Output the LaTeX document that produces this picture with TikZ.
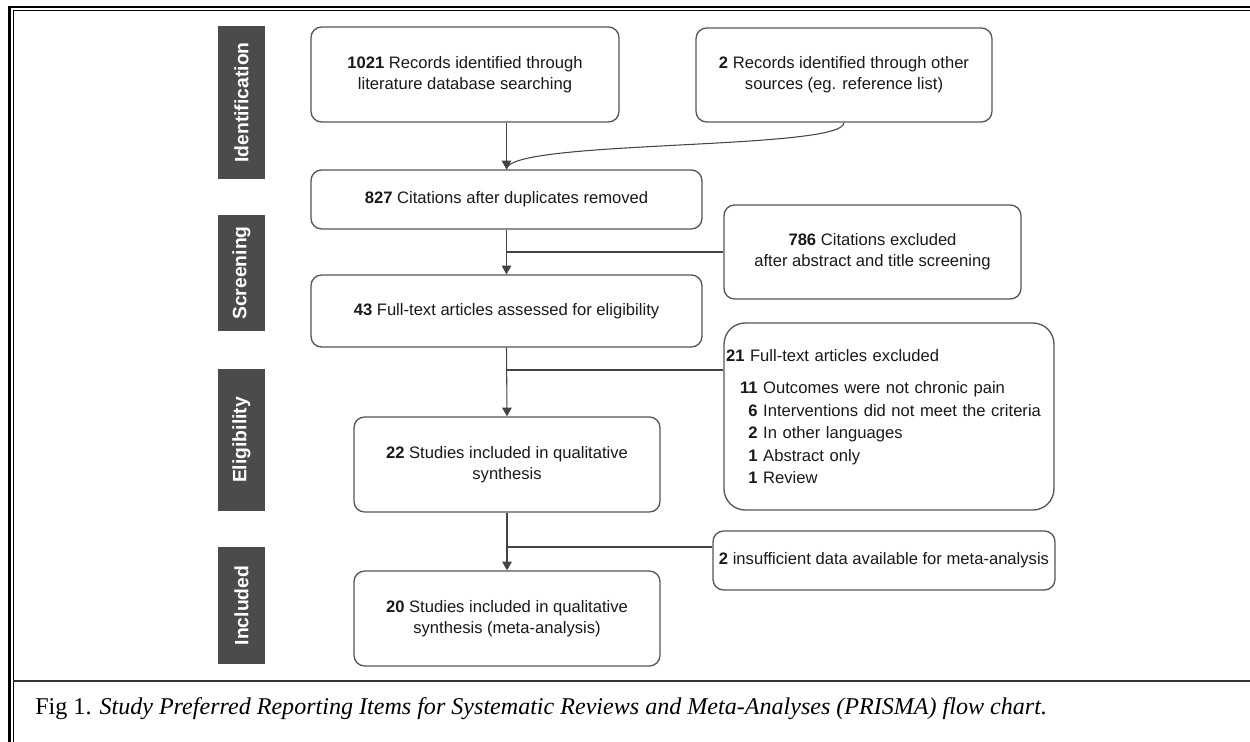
\documentclass[tikz,border=0pt]{standalone}
\usepackage{fontspec}
\setmainfont{Liberation Serif}
\newfontfamily\arialfont{Liberation Sans}
\usetikzlibrary{arrows.meta}

\definecolor{fasegrigio}{HTML}{4B4B4B}
\definecolor{bordogrigio}{HTML}{555555}
\definecolor{lineagrigio}{HTML}{444444}

\begin{document}
\begin{tikzpicture}[x=0.02cm, y=-0.02cm]
  % Stili
  \tikzset{
    fase/.style={fill=fasegrigio, text=white, rotate=90, minimum height=0.94cm, inner sep=0pt, font=\arialfont\fontsize{11}{13}\selectfont\bfseries},
    blocco/.style={draw=bordogrigio, line width=0.75pt, rounded corners=6pt, align=center, inner sep=2pt, text=black!90, font=\arialfont\fontsize{9.45}{11.9}\selectfont},
    freccia/.style={draw=lineagrigio, line width=0.6pt, -{Triangle[length=5pt,width=5.5pt]}},
    ramo/.style={draw=lineagrigio, line width=0.6pt},
    didascalia/.style={anchor=west, inner sep=0pt, font=\fontsize{13.7}{16}\selectfont}
  }
  \useasboundingbox (0,0) rectangle (1250,742);

  % Cornice della figura
  \draw[line width=1.3pt] (9.5,742) -- (9.5,7) -- (1250,7);
  \draw[line width=0.55pt] (13,742) -- (13,10.5) -- (1250,10.5);
  \draw[line width=0.8pt, black!80] (13,681) -- (1250,681);

  % Fasi (etichette verticali)
  \node[fase, minimum width=3.06cm] (f_ident)  at (241.5,102.5) {Identification};
  \node[fase, minimum width=2.32cm] (f_screen) at (241.5,273)   {Screening};
  \node[fase, minimum width=2.84cm] (f_elig)   at (241.5,440)   {Eligibility};
  \node[fase, minimum width=2.34cm] (f_incl)   at (241.5,605.5) {Included};

  % Colonna principale
  \node[blocco, minimum width=6.16cm, minimum height=1.9cm]  (rec_db)    at (465,74.5)  {\textbf{1021} Records identified through\\literature database searching};
  \node[blocco, minimum width=5.92cm, minimum height=1.88cm] (rec_other) at (844,75)    {\textbf{2} Records identified through other\\sources (eg. reference list)};
  \node[blocco, minimum width=7.82cm, minimum height=1.18cm] (dup)       at (506.5,199.5) {\textbf{827} Citations after duplicates removed};
  \node[blocco, minimum width=7.82cm, minimum height=1.44cm] (fulltext)  at (506.5,311) {\textbf{43} Full-text articles assessed for eligibility};
  \node[blocco, minimum width=6.12cm, minimum height=1.9cm]  (qual)      at (507,464.5) {\textbf{22} Studies included in qualitative\\synthesis};
  \node[blocco, minimum width=6.12cm, minimum height=1.9cm]  (meta)      at (507,618.5) {\textbf{20} Studies included in qualitative\\synthesis (meta-analysis)};

  % Esclusioni
  \node[blocco, minimum width=5.94cm, minimum height=1.88cm] (excl_abs)  at (872.5,252) {\textbf{786} Citations excluded\\after abstract and title screening};
  \node[blocco, rounded corners=12pt, align=left, text width=6.52cm, inner xsep=0.04cm, minimum height=3.74cm,
        font=\arialfont\fontsize{9.45}{12.8}\selectfont] (excl_full) at (889,416.5)
        {\textbf{21} Full-text articles excluded\\[5.9pt]
         \makebox[18pt][r]{\textbf{11}} Outcomes were not chronic pain\\
         \makebox[18pt][r]{\textbf{6}} Interventions did not meet the criteria\\
         \makebox[18pt][r]{\textbf{2}} In other languages\\
         \makebox[18pt][r]{\textbf{1}} Abstract only\\
         \makebox[18pt][r]{\textbf{1}} Review};
  \node[blocco, minimum width=6.84cm, minimum height=1.18cm] (meta_excl) at (884,560.5) {\textbf{2} insufficient data available for meta-analysis};

  % Punti di diramazione
  \coordinate (ramo_a) at (506.5,252);
  \coordinate (ramo_b) at (506.5,370);
  \coordinate (ramo_c) at (507,547);

  % Frecce
  \draw[freccia] (dup.north |- rec_db.south) -- (dup.north);
  \draw[ramo] (rec_other.south) .. controls +(0,28) and +(0,-30) .. (dup.north);
  \draw[freccia] (dup.south) -- (fulltext.north);
  \draw[freccia] (fulltext.south) -- (qual.north);
  \draw[freccia] (qual.south) -- (meta.north);

  % Rami laterali
  \draw[ramo] (ramo_a) -- (excl_abs.west);
  \draw[ramo] (ramo_b) -- (ramo_b -| excl_full.west);
  \draw[ramo] (ramo_c) -- (ramo_c -| meta_excl.west);

  % Didascalia
  \node[didascalia] (caption) at (35,709) {Fig 1. \textit{Study Preferred Reporting Items for Systematic Reviews and Meta-Analyses (PRISMA) flow chart.}};
\end{tikzpicture}
\end{document}
